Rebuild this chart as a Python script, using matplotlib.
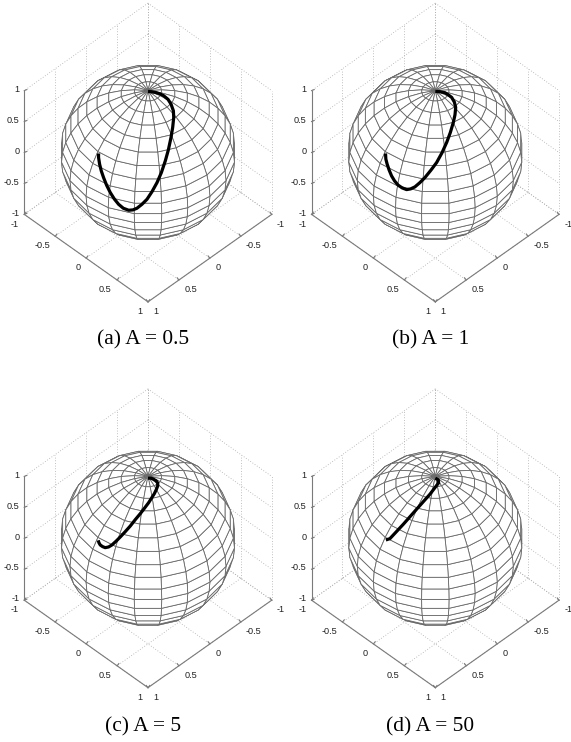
# Four unit spheres in a MATLAB style box (view az=135, el=45) with the path drawn on each
import numpy as np
import matplotlib
matplotlib.use("Agg")
import matplotlib.pyplot as plt
from matplotlib.collections import PolyCollection

plt.rcParams['font.family'] = ['Liberation Sans', 'DejaVu Sans']

captions = ["(a) A = 0.5", "(b) A = 1", "(c) A = 5", "(d) A = 50"]
ticks = [-1, -0.5, 0, 0.5, 1]
tick_labels = ["-1", "-0.5", "0", "0.5", "1"]

# paths, in view coordinates (sphere radius = 1)
a_u = [-0.565, -0.565, -0.553, -0.534, -0.508, -0.473, -0.431, -0.385, -0.336, -0.282, -0.221, -0.172, -0.126, -0.069,
       -0.011, 0.046, 0.103, 0.153, 0.198, 0.233, 0.263, 0.282, 0.294, 0.290, 0.263, 0.229, 0.179, 0.134, 0.084, 0.034, 0]
a_v = [-0.011, -0.057, -0.134, -0.210, -0.286, -0.374, -0.458, -0.531, -0.592, -0.637, -0.660, -0.656, -0.637, -0.592,
       -0.534, -0.447, -0.344, -0.229, -0.095, 0.031, 0.172, 0.286, 0.401, 0.477, 0.553, 0.607, 0.649, 0.672, 0.687, 0.695, 0.698]
b_u = [-0.569, -0.565, -0.550, -0.527, -0.500, -0.466, -0.424, -0.378, -0.328, -0.282, -0.233, -0.176, -0.118, -0.050,
       0.015, 0.076, 0.130, 0.172, 0.206, 0.225, 0.233, 0.218, 0.187, 0.153, 0.111, 0.053, 0]
b_v = [-0.011, -0.076, -0.134, -0.202, -0.267, -0.324, -0.374, -0.405, -0.424, -0.416, -0.393, -0.344, -0.286, -0.202,
       -0.115, -0.004, 0.115, 0.229, 0.344, 0.431, 0.515, 0.576, 0.630, 0.656, 0.683, 0.695, 0.698]
c_u = [-0.569, -0.561, -0.546, -0.519, -0.489, -0.450, -0.412, -0.366, -0.317, -0.260, -0.202, -0.145, -0.088, -0.038,
       0.008, 0.042, 0.073, 0.095, 0.111, 0.111, 0.095, 0.057, 0.031, 0]
c_v = [-0.023, -0.050, -0.076, -0.095, -0.107, -0.099, -0.076, -0.034, 0.015, 0.076, 0.141, 0.214, 0.282, 0.347,
       0.408, 0.462, 0.511, 0.557, 0.599, 0.630, 0.656, 0.679, 0.687, 0.687]
d_u = [-0.565, -0.519, -0.366, -0.214, -0.061, 0.038, 0.034, 0]
d_v = [-0.019, -0.004, 0.160, 0.332, 0.504, 0.634, 0.668, 0.687]
paths = [(a_u, a_v), (b_u, b_v), (c_u, c_v), (d_u, d_v)]

# panel centres in pixels, and where the captions go
centres = [(148, 152.5), (435.3, 152.5), (148, 538.3), (435.3, 538.3)]
caption_pos = [(143, 340), (431, 340), (143, 727), (430, 727)]

W, H = 571, 742
S = 87.5  # pixels per unit
EL = np.radians(45)
GRID = "#ababab"
AXIS = "#7a7a7a"


def view(x, y, z):
    x, y, z = np.asarray(x, float), np.asarray(y, float), np.asarray(z, float)
    u = (y - x) / np.sqrt(2)
    d = (x + y) / np.sqrt(2)
    v = z * np.cos(EL) - d * np.sin(EL)
    w = z * np.sin(EL) + d * np.cos(EL)
    return u, v, w


def line3(ax, p, q, **kw):
    u, v, _ = view(*zip(p, q))
    ax.plot(u, v, **kw)


def draw_sphere(ax):
    n = 20
    theta = np.linspace(-np.pi, np.pi, n + 1)
    phi = np.linspace(-np.pi / 2, np.pi / 2, n + 1)
    faces = []
    for i in range(n):
        for j in range(n):
            t = [theta[i], theta[i + 1], theta[i + 1], theta[i]]
            p = [phi[j], phi[j], phi[j + 1], phi[j + 1]]
            x = np.cos(p) * np.cos(t)
            y = np.cos(p) * np.sin(t)
            z = np.sin(p)
            u, v, w = view(x, y, z)
            faces.append((w.mean(), np.column_stack([u, v])))
    faces = [f for f in faces if f[0] > -0.12]
    faces.sort(key=lambda f: f[0])
    pc = PolyCollection([f[1] for f in faces], facecolors="white", edgecolors="#686868",
                        linewidths=0.6, zorder=3)
    ax.add_collection(pc)


def draw_box(ax):
    dot = dict(color=GRID, lw=0.6, ls=(0, (1, 2.2)), zorder=1)
    solid = dict(color=AXIS, lw=0.8, zorder=2)
    for t in ticks:
        # floor
        line3(ax, (t, -1, -1), (t, 1, -1), **dot)
        line3(ax, (-1, t, -1), (1, t, -1), **dot)
        # back walls
        line3(ax, (t, -1, -1), (t, -1, 1), **dot)
        line3(ax, (-1, t, -1), (-1, t, 1), **dot)
        line3(ax, (-1, -1, t), (1, -1, t), **dot)
        line3(ax, (-1, -1, t), (-1, 1, t), **dot)
    line3(ax, (1, -1, -1), (1, -1, 1), **solid)
    line3(ax, (1, -1, -1), (1, 1, -1), **solid)
    line3(ax, (-1, 1, -1), (1, 1, -1), **solid)
    for t, lab in zip(ticks, tick_labels):
        txt = dict(fontsize=6.6, color="#222222", zorder=5)
        # z axis
        u, v, _ = view(1, -1, t)
        ax.plot([u, u + 0.03], [v, v + 0.012], **solid)
        ax.annotate(lab, (u, v), xytext=(-3.6, 0.9), textcoords="offset points",
                    ha="right", va="center", **txt)
        # left floor axis
        u, v, _ = view(1, t, -1)
        ax.plot([u, u + 0.02], [v, v + 0.025], **solid)
        ax.annotate(lab, (u, v), xytext=(-3.8, -7), textcoords="offset points",
                    ha="right", va="center", **txt)
        # right floor axis
        u, v, _ = view(t, 1, -1)
        ax.plot([u, u - 0.02], [v, v + 0.025], **solid)
        ax.annotate(lab, (u, v), xytext=(3.8, -7), textcoords="offset points",
                    ha="left", va="center", **txt)


fig = plt.figure(figsize=(W / 100, H / 100), dpi=100)
XL, YB, YT = 1.62, 1.78, 1.8
for (cx, cy), (pu, pv), cap, (tx, ty) in zip(centres, paths, captions, caption_pos):
    left = (cx - XL * S) / W
    bottom = 1 - (cy + YB * S) / H
    ax = fig.add_axes([left, bottom, 2 * XL * S / W, (YB + YT) * S / H])
    ax.set_xlim(-XL, XL)
    ax.set_ylim(-YB, YT)
    ax.axis("off")
    draw_box(ax)
    draw_sphere(ax)
    ax.plot(pu, pv, color="black", lw=2.3, solid_capstyle="butt", solid_joinstyle="round", zorder=4)
    fig.text(tx / W, 1 - ty / H, cap, ha="center", va="center", fontsize=15.4,
             family=["Liberation Serif", "DejaVu Serif"], color="black")

fig.savefig("out.png", dpi=100)
